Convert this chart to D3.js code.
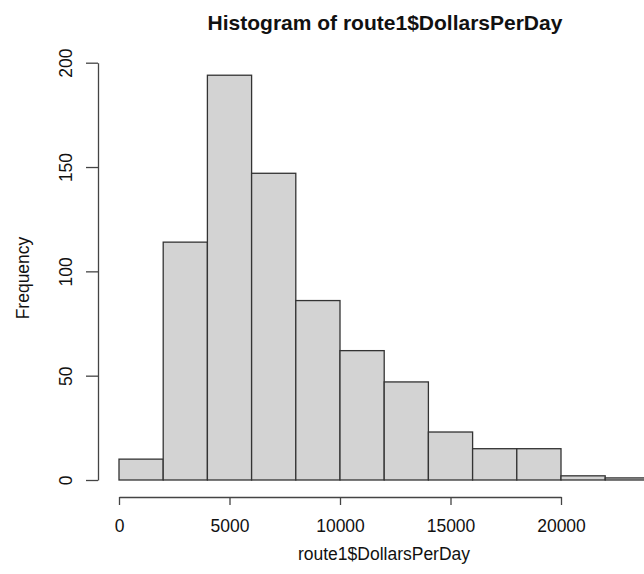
<!DOCTYPE html>
<html>
<head>
<meta charset="utf-8">
<script src="https://cdn.jsdelivr.net/npm/d3@7"></script>
<style>
  body { margin: 0; background: #fff; }
  svg { display: block; font-family: "Liberation Sans", Arial, sans-serif; }
</style>
</head>
<body>
<div id="chart"></div>
<script>
// histogram bins (left edges), counts and axis ticks
var binStarts = [0, 2000, 4000, 6000, 8000, 10000, 12000, 14000, 16000, 18000, 20000, 22000];
var binWidth = 2000;
var counts = [10, 114, 194, 147, 86, 62, 47, 23, 15, 15, 2, 1];
var xTicks = [0, 5000, 10000, 15000, 20000];
var yTicks = [0, 50, 100, 150, 200];

var svgWidth = 644, svgHeight = 574;

var svg = d3.select("#chart").append("svg")
  .attr("width", svgWidth)
  .attr("height", svgHeight);

// scales
var xScale = d3.scaleLinear().domain([0, 20000]).range([119, 561]);
var yScale = d3.scaleLinear().domain([0, 200]).range([480, 62.7]);

// bars
svg.selectAll("rect.bar")
  .data(counts)
  .enter()
  .append("rect")
  .attr("class", "bar")
  .attr("x", (d, i) => xScale(binStarts[i]))
  .attr("width", (d, i) => xScale(binStarts[i] + binWidth) - xScale(binStarts[i]))
  .attr("y", d => yScale(d))
  .attr("height", d => yScale(0) - yScale(d))
  .attr("fill", "#d3d3d3")
  .attr("stroke", "#333")
  .attr("stroke-width", 1.3);

// x axis
var xAxis = svg.append("g")
  .attr("transform", "translate(0,497)")
  .call(d3.axisBottom(xScale).tickValues(xTicks).tickSize(8).tickSizeOuter(0).tickPadding(15).tickFormat(d3.format("d")));

// y axis
var yAxis = svg.append("g")
  .attr("transform", "translate(98,0)")
  .call(d3.axisLeft(yScale).tickValues(yTicks).tickSize(12).tickSizeOuter(0).tickFormat(d3.format("d")));

yAxis.selectAll(".tick text")
  .attr("transform", "rotate(-90)")
  .attr("x", 0)
  .attr("y", -26)
  .attr("dy", null)
  .attr("text-anchor", "middle");

[xAxis, yAxis].forEach(function(ax) {
  ax.attr("font-family", null).attr("font-size", null);
  ax.selectAll("path, line").attr("stroke", "#444").attr("stroke-width", 1.3);
  ax.selectAll("text").attr("fill", "#111").style("font-size", "17.5px");
});

// title and axis labels
svg.append("text")
  .attr("x", 385)
  .attr("y", 30)
  .attr("text-anchor", "middle")
  .style("font-size", "21px")
  .style("font-weight", "bold")
  .attr("fill", "#111")
  .text("Histogram of route1$DollarsPerDay");

svg.append("text")
  .attr("x", 384)
  .attr("y", 560)
  .attr("text-anchor", "middle")
  .style("font-size", "17.5px")
  .attr("fill", "#111")
  .text("route1$DollarsPerDay");

svg.append("text")
  .attr("transform", "translate(29,278) rotate(-90)")
  .attr("text-anchor", "middle")
  .style("font-size", "17.5px")
  .attr("fill", "#111")
  .text("Frequency");
</script>
</body>
</html>
